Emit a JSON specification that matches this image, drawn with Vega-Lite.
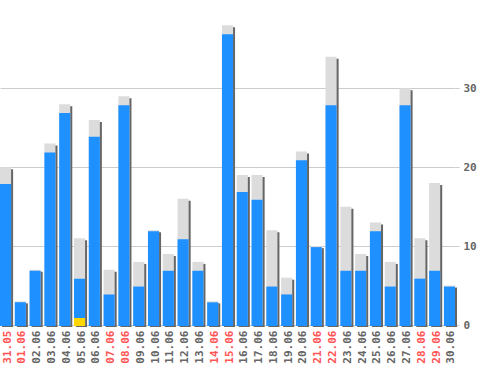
{
  "$schema": "https://vega.github.io/schema/vega-lite/v6.json",
  "autosize": "none",
  "width": 455,
  "height": 325,
  "padding": {"left": 0, "top": 0, "right": 43, "bottom": 45},
  "background": "white",
  "config": {"view": {"stroke": null}},
  "data": {"values": [
    {"d": "31.05", "b": 18, "t": 20, "y": 0},
    {"d": "01.06", "b": 3, "t": 3, "y": 0},
    {"d": "02.06", "b": 7, "t": 7, "y": 0},
    {"d": "03.06", "b": 22, "t": 23, "y": 0},
    {"d": "04.06", "b": 27, "t": 28, "y": 0},
    {"d": "05.06", "b": 6, "t": 11, "y": 1},
    {"d": "06.06", "b": 24, "t": 26, "y": 0},
    {"d": "07.06", "b": 4, "t": 7, "y": 0},
    {"d": "08.06", "b": 28, "t": 29, "y": 0},
    {"d": "09.06", "b": 5, "t": 8, "y": 0},
    {"d": "10.06", "b": 12, "t": 12, "y": 0},
    {"d": "11.06", "b": 7, "t": 9, "y": 0},
    {"d": "12.06", "b": 11, "t": 16, "y": 0},
    {"d": "13.06", "b": 7, "t": 8, "y": 0},
    {"d": "14.06", "b": 3, "t": 3, "y": 0},
    {"d": "15.06", "b": 37, "t": 38, "y": 0},
    {"d": "16.06", "b": 17, "t": 19, "y": 0},
    {"d": "17.06", "b": 16, "t": 19, "y": 0},
    {"d": "18.06", "b": 5, "t": 12, "y": 0},
    {"d": "19.06", "b": 4, "t": 6, "y": 0},
    {"d": "20.06", "b": 21, "t": 22, "y": 0},
    {"d": "21.06", "b": 10, "t": 10, "y": 0},
    {"d": "22.06", "b": 28, "t": 34, "y": 0},
    {"d": "23.06", "b": 7, "t": 15, "y": 0},
    {"d": "24.06", "b": 7, "t": 9, "y": 0},
    {"d": "25.06", "b": 12, "t": 13, "y": 0},
    {"d": "26.06", "b": 5, "t": 8, "y": 0},
    {"d": "27.06", "b": 28, "t": 30, "y": 0},
    {"d": "28.06", "b": 6, "t": 11, "y": 0},
    {"d": "29.06", "b": 7, "t": 18, "y": 0},
    {"d": "30.06", "b": 5, "t": 5, "y": 0}
  ]},
  "encoding": {
    "x": {
      "field": "d", "type": "nominal", "sort": null,
      "scale": {"paddingInner": 0.25, "paddingOuter": 0},
      "axis": {
        "title": null, "labelAngle": -90, "labelAlign": "right", "labelBaseline": "middle",
        "labelFont": "DejaVu Sans Mono", "labelFontSize": 11, "labelFontWeight": "bold", "labelOffset": 2,
        "labelPadding": 5, "ticks": false, "domain": false,
        "labelColor": {"condition": {"test": "indexof(['31.05','01.06','07.06','08.06','14.06','15.06','21.06','22.06','28.06','29.06'], datum.label) >= 0", "value": "#ff5555"}, "value": "#666666"}
      }
    }
  },
  "layer": [
    {
      "mark": {"type": "bar", "color": "#666666", "xOffset": 2, "yOffset": 2},
      "encoding": {
        "y": {"field": "t", "type": "quantitative",
          "scale": {"domain": [0, 41.2], "nice": false, "zero": true},
          "axis": {"orient": "right", "title": null, "values": [0, 10, 20, 30],
            "grid": true, "gridColor": "#cccccc", "domain": false,
            "tickSize": 4, "tickColor": "#cccccc", "labelPadding": 4,
            "labelFont": "DejaVu Sans Mono", "labelFontSize": 11, "labelFontWeight": "bold",
            "labelColor": "#666666", "labelBaseline": "middle"}}
      }
    },
    {
      "mark": {"type": "bar", "color": "#dcdcdc"},
      "encoding": {"y": {"field": "t", "type": "quantitative"}}
    },
    {
      "mark": {"type": "bar", "color": "#1e90ff", "yOffset": 1},
      "encoding": {"y": {"field": "b", "type": "quantitative"}}
    },
    {
      "transform": [{"filter": "datum.y > 0"}],
      "mark": {"type": "bar", "color": "#ffd700", "yOffset": 1},
      "encoding": {"y": {"field": "y", "type": "quantitative"}}
    }
  ]
}
